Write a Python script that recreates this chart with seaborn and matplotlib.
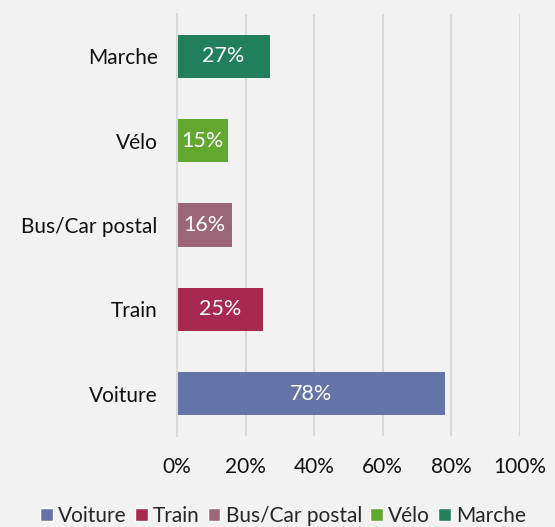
import matplotlib
matplotlib.use("Agg")
import matplotlib.pyplot as plt
import seaborn as sns
import pandas as pd
from matplotlib.patches import Patch

categories = ["Voiture", "Train", "Bus/Car postal", "Vélo", "Marche"]
values = [78, 25, 16, 15, 27]
colors = ["#6574a6", "#a8294f", "#9c6679", "#62a72e", "#217f5b"]
xticks = [0, 20, 40, 60, 80, 100]

sns.set_theme(style="white")
plt.rcParams['font.family'] = ['Lato', 'DejaVu Sans']

df = pd.DataFrame({"cat": categories, "val": values})
order = categories[::-1]
palette = dict(zip(categories, colors))

fig = plt.figure(figsize=(5.55, 5.27), dpi=100, facecolor="#f2f2f2")
ax = fig.add_axes([177/555, 1-436/527, 343/555, 422/527])
ax.set_facecolor("#f2f2f2")

sns.barplot(data=df, y="cat", x="val", hue="cat", order=order, palette=palette,
            dodge=False, legend=False, width=0.51, ax=ax, saturation=1, linewidth=0)

ax.set_xlim(0, 100)
ax.set_ylim(len(order) - 0.5, -0.5)
ax.set_xticks(xticks)
ax.set_xticklabels([f"{t}%" for t in xticks], fontsize=15, color="#111111")
ax.tick_params(axis="x", length=0, pad=15)
ax.set_yticks(range(len(order)))
ax.set_yticklabels(order, fontsize=15, color="#111111")
ax.tick_params(axis="y", length=0, pad=14)
# category boundary tick marks
ax.set_yticks([i - 0.5 for i in range(len(order) + 1)], minor=True)
ax.tick_params(axis="y", which="minor", length=5, color="#d9d9d9", width=1.5)
ax.set_xlabel("")
ax.set_ylabel("")
for s in ["top", "right", "bottom"]:
    ax.spines[s].set_visible(False)
ax.spines["left"].set_color("#d9d9d9")
ax.spines["left"].set_linewidth(1.5)
ax.grid(axis="x", color="#d9d9d9", linewidth=1.5)
ax.set_axisbelow(True)

for c in ax.containers:
    ax.bar_label(c, labels=[f"{v:.0f}%" for v in c.datavalues], label_type="center",
                 color="white", fontsize=15.5)

handles = [Patch(facecolor=col, label=cat) for cat, col in zip(categories, colors)]
fig.legend(handles=handles, loc="center", bbox_to_anchor=(0.51, 1-516/527), ncol=5,
           frameon=False, fontsize=15, handlelength=0.6, handleheight=0.6,
           handletextpad=0.25, columnspacing=0.4, borderaxespad=0)

fig.savefig("out.png", dpi=100, facecolor="#f2f2f2")
